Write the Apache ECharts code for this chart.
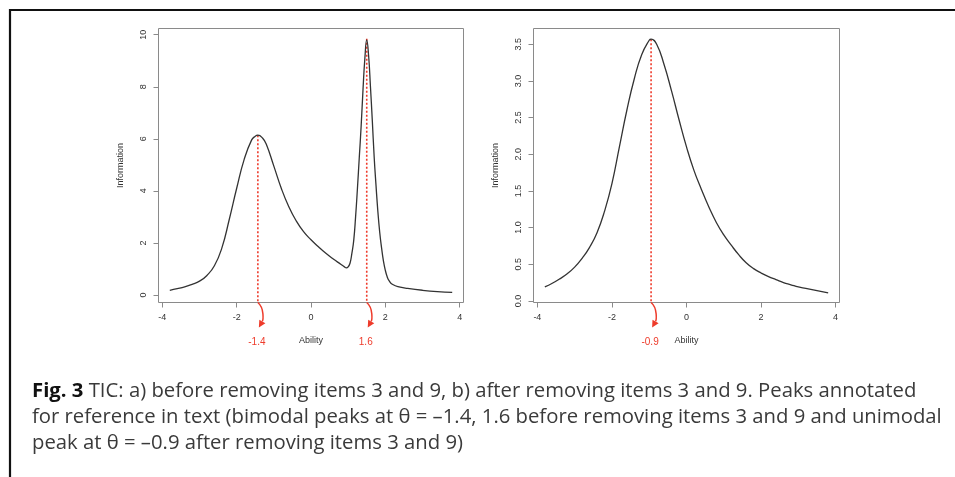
<!DOCTYPE html>
<html>
<head>
<meta charset="utf-8">
<script src="https://cdn.jsdelivr.net/npm/echarts@6/dist/echarts.min.js"></script>
<style>
html, body { margin: 0; padding: 0; background: #fff; }
#chart { width: 955px; height: 477px; }
</style>
</head>
<body>
<div id="chart"></div>
<script>
// a) before removing items 3 and 9
var abilityA = [-3.8, -3.6, -3.4, -3.2, -3.0, -2.8, -2.6, -2.4, -2.2, -2.0, -1.8, -1.6, -1.5, -1.43, -1.3, -1.2, -1.0, -0.8, -0.6, -0.4, -0.2, 0.0, 0.2, 0.4, 0.6, 0.8, 0.9, 0.95, 1.0, 1.05, 1.1, 1.15, 1.2, 1.25, 1.3, 1.35, 1.4, 1.45, 1.5, 1.55, 1.6, 1.65, 1.7, 1.75, 1.8, 1.85, 1.9, 1.95, 2.0, 2.05, 2.1, 2.2, 2.4, 2.6, 3.0, 3.4, 3.8];
var infoA = [0.18, 0.24, 0.31, 0.41, 0.53, 0.75, 1.12, 1.8, 2.9, 4.1, 5.2, 5.95, 6.1, 6.14, 6.02, 5.78, 4.95, 4.1, 3.4, 2.85, 2.43, 2.12, 1.85, 1.6, 1.38, 1.18, 1.08, 1.04, 1.08, 1.22, 1.6, 2.1, 3.0, 4.1, 5.3, 6.5, 7.9, 9.1, 9.8, 9.2, 8.0, 6.7, 5.3, 4.2, 3.2, 2.4, 1.8, 1.3, 0.95, 0.7, 0.55, 0.4, 0.3, 0.25, 0.18, 0.13, 0.1];
// b) after removing items 3 and 9
var abilityB = [-3.8, -3.6, -3.4, -3.2, -3.0, -2.8, -2.6, -2.4, -2.2, -2.0, -1.8, -1.6, -1.4, -1.2, -1.0, -0.95, -0.8, -0.6, -0.4, -0.2, 0.0, 0.2, 0.4, 0.6, 0.8, 1.0, 1.2, 1.4, 1.6, 1.8, 2.0, 2.2, 2.4, 2.6, 2.8, 3.0, 3.2, 3.4, 3.6, 3.8];
var infoB = [0.19, 0.24, 0.3, 0.37, 0.46, 0.58, 0.73, 0.93, 1.22, 1.6, 2.1, 2.6, 3.03, 3.36, 3.555, 3.57, 3.5, 3.22, 2.86, 2.47, 2.1, 1.78, 1.52, 1.28, 1.07, 0.9, 0.76, 0.63, 0.52, 0.44, 0.38, 0.33, 0.29, 0.25, 0.22, 0.19, 0.17, 0.15, 0.13, 0.11];

// peak annotations: ability, information, label
var peaksA = [[-1.43, 6.14, '-1.4'], [1.5, 9.85, '1.6']];
var peaksB = [[-0.95, 3.57, '-0.9']];

var xTicks = [-4, -2, 0, 2, 4];
var yTicksA = [0, 2, 4, 6, 8, 10];
var yTicksB = [0, 0.5, 1, 1.5, 2, 2.5, 3, 3.5];

var captionBold = 'Fig. 3';
var captionLines = [
    ' TIC: a) before removing items 3 and 9, b) after removing items 3 and 9. Peaks annotated',
    'for reference in text (bimodal peaks at \u03b8 = \u20131.4, 1.6 before removing items 3 and 9 and unimodal',
    'peak at \u03b8 = \u20130.9 after removing items 3 and 9)'
];

var red = '#ee3b2b';
var axisGray = '#8a8a8a';
var tickFont = 'Liberation Sans';
var capFont = '"Open Sans"';

function zip(xs, ys) {
    return xs.map(function (x, i) { return [x, ys[i]]; });
}

// size the caption so that its two full lines span the figure's width
function captionSize(targetWidth) {
    var ctx = document.createElement('canvas').getContext('2d');
    ctx.font = 'bold 20px ' + capFont;
    var w1 = ctx.measureText(captionBold).width;
    ctx.font = '20px ' + capFont;
    w1 += ctx.measureText(captionLines[0]).width;
    var w2 = ctx.measureText(captionLines[1]).width;
    return 20 * targetWidth / Math.max(w1, w2);
}

function peakRenderer(peaks) {
    return function (params, api) {
        var top = api.coord([api.value(0), api.value(1)]);
        var b = params.coordSys.y + params.coordSys.height;
        var px = top[0];
        var ex = px + 1, ey = b + 25;
        // arrow head along the tangent at the end of the curve
        var dx = ex - (px + 5), dy = ey - (b + 18);
        var len = Math.sqrt(dx * dx + dy * dy);
        dx /= len; dy /= len;
        var hx = ex - dx * 7, hy = ey - dy * 7;
        return {
            type: 'group',
            children: [{
                type: 'line',
                shape: { x1: px, y1: top[1], x2: px, y2: b },
                style: { stroke: red, lineWidth: 1.6, lineDash: [2, 2] }
            }, {
                type: 'bezierCurve',
                shape: { x1: px, y1: b, cpx1: px + 7, cpy1: b + 6, cpx2: px + 5, cpy2: b + 18, x2: hx, y2: hy },
                style: { stroke: red, lineWidth: 1.5, fill: null }
            }, {
                type: 'polygon',
                shape: { points: [[ex, ey], [hx - dy * 3.5, hy + dx * 3.5], [hx + dy * 3.5, hy - dx * 3.5]] },
                style: { fill: red }
            }, {
                type: 'text',
                x: px - 1,
                y: b + 40,
                style: {
                    text: peaks[params.dataIndex][2],
                    fill: red,
                    font: '10px "Liberation Sans"',
                    align: 'center',
                    verticalAlign: 'middle'
                }
            }]
        };
    };
}

function xAxisFor(gridIndex) {
    return {
        gridIndex: gridIndex,
        type: 'value',
        min: -4.104,
        max: 4.104,
        name: 'Ability',
        nameLocation: 'middle',
        nameGap: 34,
        nameTextStyle: { fontSize: 9, color: '#333', fontFamily: tickFont },
        axisLine: { show: false, onZero: false },
        splitLine: { show: false },
        axisTick: { show: true, length: 5, lineStyle: { color: axisGray }, customValues: xTicks },
        axisLabel: { fontSize: 9, color: '#333', fontFamily: tickFont, margin: 11, customValues: xTicks }
    };
}

function yAxisFor(gridIndex, min, max, ticks, digits) {
    return {
        gridIndex: gridIndex,
        type: 'value',
        min: min,
        max: max,
        name: 'Information',
        nameLocation: 'middle',
        nameRotate: 90,
        nameGap: 33,
        nameTextStyle: { fontSize: 9, color: '#333', fontFamily: tickFont },
        axisLine: { show: false, onZero: false },
        splitLine: { show: false },
        axisTick: { show: true, length: 5, lineStyle: { color: axisGray }, customValues: ticks },
        axisLabel: {
            fontSize: 9, color: '#333', fontFamily: tickFont, margin: 10, rotate: 90,
            customValues: ticks,
            formatter: function (v) { return v.toFixed(digits); }
        }
    };
}

var capSize = captionSize(910);

var option = {
    animation: false,
    grid: [
        { left: 158.5, top: 28.5, width: 305, height: 274, show: true, borderColor: axisGray, borderWidth: 1 },
        { left: 533.5, top: 28.5, width: 306, height: 274, show: true, borderColor: axisGray, borderWidth: 1 }
    ],
    xAxis: [xAxisFor(0), xAxisFor(1)],
    yAxis: [
        yAxisFor(0, -0.29, 10.24, yTicksA, 0),
        yAxisFor(1, -0.022, 3.715, yTicksB, 1)
    ],
    series: [{
        type: 'line',
        xAxisIndex: 0,
        yAxisIndex: 0,
        data: zip(abilityA, infoA),
        smooth: 0.5,
        showSymbol: false,
        lineStyle: { color: '#333', width: 1.3 }
    }, {
        type: 'line',
        xAxisIndex: 1,
        yAxisIndex: 1,
        data: zip(abilityB, infoB),
        smooth: 0.5,
        showSymbol: false,
        lineStyle: { color: '#333', width: 1.3 }
    }, {
        type: 'custom',
        xAxisIndex: 0,
        yAxisIndex: 0,
        data: peaksA.map(function (p) { return [p[0], p[1]]; }),
        renderItem: peakRenderer(peaksA),
        z: 3
    }, {
        type: 'custom',
        xAxisIndex: 1,
        yAxisIndex: 1,
        data: peaksB.map(function (p) { return [p[0], p[1]]; }),
        renderItem: peakRenderer(peaksB),
        z: 3
    }],
    graphic: [{
        type: 'polyline',
        shape: { points: [[10, 477], [10, 10], [955, 10]] },
        style: { stroke: '#111', lineWidth: 2.2, fill: null }
    }, {
        type: 'text',
        left: 32,
        top: 378,
        style: {
            text: '{b|' + captionBold + '}' + captionLines.join('\n'),
            font: capSize.toFixed(1) + 'px ' + capFont,
            fill: '#3a3a3a',
            lineHeight: 26,
            rich: {
                b: { font: 'bold ' + capSize.toFixed(1) + 'px ' + capFont, fill: '#111', lineHeight: 26 }
            }
        }
    }]
};

var chart = echarts.init(document.getElementById('chart'));
chart.setOption(option);
</script>
</body>
</html>
